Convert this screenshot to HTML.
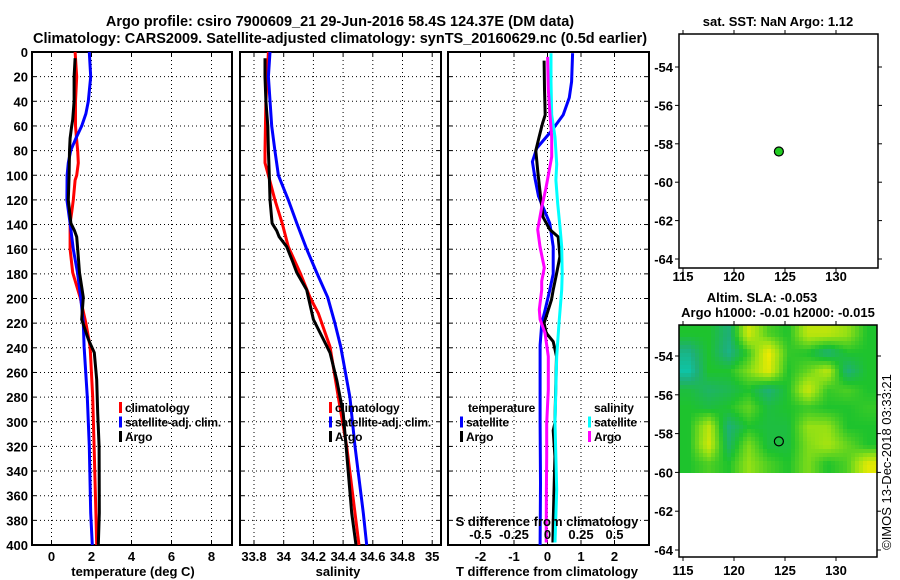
<!DOCTYPE html>
<html><head><meta charset="utf-8">
<style>
html,body{margin:0;padding:0;background:#fff;}
svg{display:block;font-family:"Liberation Sans",sans-serif;font-weight:bold;}
</style></head>
<body>
<svg id="fig" width="900" height="580" viewBox="0 0 900 580" xmlns="http://www.w3.org/2000/svg">
<defs>
<clipPath id="mapclip"><rect x="679" y="325" width="198" height="148"/></clipPath>
</defs>
<text x="340" y="26" font-size="14.5" text-anchor="middle">Argo profile: csiro 7900609_21 29-Jun-2016 58.4S 124.37E (DM data)</text>
<text x="340" y="43" font-size="14.5" text-anchor="middle">Climatology: CARS2009. Satellite-adjusted climatology: synTS_20160629.nc (0.5d earlier)</text>
<text x="778" y="26" font-size="13" text-anchor="middle">sat. SST: NaN Argo: 1.12</text>
<text x="762" y="302" font-size="13" text-anchor="middle">Altim. SLA: -0.053</text>
<text x="778" y="317" font-size="13" text-anchor="middle">Argo h1000: -0.01 h2000: -0.015</text>
<text transform="translate(891,462) rotate(-90)" font-size="13" font-weight="normal" text-anchor="middle">©IMOS 13-Dec-2018 03:33:21</text>
<g id="plots"></g>
</svg>
<script>
// ---- data ----
const depthsTA = [0,20,40,55,60,70,80,90,100,104,120,130,139,160,179,199,220,239,280,320,374,400];
const tempClim = [1.18,1.26,1.2,1.2,1.2,1.25,1.31,1.34,1.26,1.18,1.09,1.01,0.93,0.93,1.06,1.43,1.72,1.93,2.06,2.13,2.22,2.26];
const depthsTB = [0,20,40,50,60,70,80,90,100,120,139,160,179,199,220,239,280,320,374,400];
const tempSat = [1.89,1.96,1.84,1.72,1.51,1.22,0.96,0.84,0.78,0.77,0.93,1.09,1.3,1.46,1.59,1.63,1.79,1.89,1.96,2.04];
const depthsTC = [5,20,40,55,60,70,80,100,120,139,145,150,160,179,199,217,233,244,266,293,320,374,400];
const tempArgo = [1.18,1.13,1.13,1.06,1.01,0.93,0.9,0.88,0.84,0.97,1.15,1.26,1.31,1.4,1.59,1.51,1.84,2.14,2.26,2.31,2.38,2.39,2.34];

const depthsSA = [0,40,80,90,100,120,139,158,179,199,212,239,280,320,374,400];
const salClim = [33.897,33.88,33.874,33.874,33.897,33.941,33.99,34.031,34.11,34.177,34.233,34.312,34.368,34.424,34.48,34.507];
const depthsSB = [0,20,60,80,100,110,120,139,160,179,199,220,239,280,320,374,400];
const salSat = [33.908,33.897,33.919,33.941,33.964,33.997,34.031,34.088,34.155,34.222,34.296,34.345,34.384,34.446,34.48,34.536,34.559];
const depthsSC = [5,20,40,60,80,100,120,139,145,150,158,170,179,193,217,233,244,266,293,320,374,400];
const salArgo = [33.874,33.874,33.88,33.893,33.897,33.903,33.908,33.922,33.953,33.97,34.02,34.06,34.088,34.155,34.2,34.267,34.312,34.357,34.401,34.42,34.458,34.487];

const depthsD1 = [1,24,37,51,64,78,89,103,117,126,139,158,180,193,209,220,238,300,350,400];
const dTsat = [0.75,0.72,0.65,0.47,0.12,-0.32,-0.45,-0.37,-0.27,-0.13,0.07,0.17,0.17,0.07,-0.07,-0.17,-0.22,-0.22,-0.21,-0.22];
const depthsD2 = [7,30,51,58,69,80,97,119,134,144,150,166,180,193,201,220,228,235,241,247,301,307,328,382,398];
const dTargo = [-0.1,-0.09,-0.07,-0.15,-0.25,-0.35,-0.29,-0.2,-0.13,0.07,0.32,0.37,0.27,0.17,0.12,-0.1,-0.04,0.17,0.22,0.27,0.22,0.17,0.22,0.17,0.16];
const depthsD3 = [1,24,51,69,91,104,123,142,158,180,193,220,247,301,355,398];
const dSsat = [0.026,0.026,0.031,0.056,0.069,0.063,0.076,0.093,0.106,0.11,0.106,0.086,0.069,0.056,0.069,0.056];
const depthsD4 = [4,30,51,69,85,97,111,126,144,158,175,186,193,209,217,228,247,274,301,328,355,398];
const dSargo = [0.001,0.006,0.019,0.031,0.031,0.011,-0.013,-0.043,-0.073,-0.056,-0.024,-0.043,-0.043,-0.061,-0.055,-0.019,0.006,0.006,-0.006,-0.006,-0.008,-0.01];

const depthTicks = [0,20,40,60,80,100,120,140,160,180,200,220,240,260,280,300,320,340,360,380,400];
const tempTicks = [0,2,4,6,8];
const salTicks = [33.8,34,34.2,34.4,34.6,34.8,35];
const salTickLabels = ["33.8","34","34.2","34.4","34.6","34.8","35"];
const dTTicks = [-2,-1,0,1,2];
const dSTicks = [-0.5,-0.25,0,0.25,0.5];
const dSTickLabels = ["-0.5","-0.25","0","0.25","0.5"];
const lonTicks = [115,120,125,130];
const latTicks = [-54,-56,-58,-60,-62,-64];
const argoLon = 124.4, argoLat = -58.4;
// SLA heatmap (relative values: 0 teal .. 1 green .. 2 yellow), rows north->south
const slaGrid = [
 [1.0,1.0,0.6,1.8,1.2,1.0,1.7,1.7,1.5,1.0],
 [0.5,1.0,0.5,1.1,2.0,1.1,1.0,0.6,1.0,1.0],
 [0.3,1.0,1.0,1.4,1.9,1.0,1.3,1.7,0.6,1.0],
 [0.9,0.7,0.8,1.0,0.6,1.0,1.8,1.1,1.2,1.0],
 [1.0,0.9,1.0,1.3,0.9,1.0,1.1,1.0,1.0,1.1],
 [1.0,1.7,0.6,1.0,0.9,0.9,1.5,1.5,1.0,1.0],
 [1.0,1.8,0.7,1.4,0.9,0.9,1.4,1.6,1.3,1.0],
 [1.0,1.2,1.0,1.5,1.2,1.0,1.4,1.0,1.2,1.9]
];

// ---- geometry ----
const TOP=52, BOT=545;
const y = d => TOP + (d/400)*(BOT-TOP);
const xT = t => 51.5 + 20*t;
const xS = s => 254 + (s-33.8)*148.5;
const xDT = t => 547.5 + 33.5*t;
const xDS = s => 547.5 + 134*s;
const xLon = l => 683 + (l-115)*10.2;
const yLat1 = l => 67 + (-54-l)*19.2;
const yLat2 = l => 356 + (-54-l)*19.4;

const NS="http://www.w3.org/2000/svg";
const root=document.getElementById('plots');
function mk(tag, attrs, parent){const e=document.createElementNS(NS,tag);for(const k in attrs)e.setAttribute(k,attrs[k]);(parent||root).appendChild(e);return e;}
function txt(x,yy,s,size,anchor,parent){const e=mk('text',{x:x,y:yy,'font-size':size,'text-anchor':anchor},parent);e.textContent=s;return e;}

function panel(name,x0,x1,xticks,xfn){
  const g=mk('g',{});
  
  
  depthTicks.forEach(d=>{
    if(d>0&&d<400){const l=mk('line',{x1:x0,x2:x1,y1:y(d),y2:y(d),stroke:'#000','stroke-dasharray':'1,3','stroke-width':1},g);
    
    }
    mk('line',{x1:x0,x2:x0+4,y1:y(d),y2:y(d),stroke:'#000','stroke-width':1},g);
    mk('line',{x1:x1-4,x2:x1,y1:y(d),y2:y(d),stroke:'#000','stroke-width':1},g);
  });
  xticks.forEach(v=>{
    const xx=xfn(v);
    const l=mk('line',{x1:xx,x2:xx,y1:TOP,y2:BOT,stroke:'#000','stroke-dasharray':'1,3','stroke-width':1},g);
    
    
    mk('line',{x1:xx,x2:xx,y1:TOP,y2:TOP+4,stroke:'#000'},g);
    mk('line',{x1:xx,x2:xx,y1:BOT-4,y2:BOT,stroke:'#000'},g);
  });
  mk('rect',{x:x0,y:TOP,width:x1-x0,height:BOT-TOP,fill:'none',stroke:'#000','stroke-width':2},g);
  return g;
}
function series(name,depths,vals,xfn,color,parent){
  const pts=depths.map((d,i)=>xfn(vals[i]).toFixed(1)+','+y(d).toFixed(1)).join(' ');
  const p=mk('polyline',{points:pts,fill:'none',stroke:color,'stroke-width':3,'stroke-linejoin':'round'},parent);
  
  
}
function legend(name,x,yy,items,parent){
  const g=mk('g',{},parent);
  
  
  items.forEach((it,i)=>{
    const yy2=yy+i*14.5;
    if(it[1]) mk('rect',{x:x,y:yy2-10,width:3,height:11,fill:it[1]},g);
    const t=txt(x+(it[1]?6:0),yy2,it[0],12,'start',g);
    t.setAttribute('letter-spacing','-0.2');
  });
}

// depth labels
const yl=mk('g',{});


depthTicks.forEach(d=>txt(28,y(d)+5,String(d),13,'end',yl));

// panel 1
const p1=panel('temperature-panel',32,232,tempTicks,xT);
series('temp-climatology-line',depthsTA,tempClim,xT,'#ff0000',p1);
series('temp-satellite-line',depthsTB,tempSat,xT,'#0000ff',p1);
series('temp-argo-line',depthsTC,tempArgo,xT,'#000000',p1);
tempTicks.forEach(v=>txt(xT(v),561,String(v),13,'middle',p1));
txt(133,576,'temperature (deg C)',13,'middle',p1);
legend('temp-legend',119,412,[['climatology','#ff0000'],['satellite-adj. clim.','#0000ff'],['Argo','#000000']],p1);

// panel 2
const p2=panel('salinity-panel',240,441,salTicks,xS);
series('sal-climatology-line',depthsSA,salClim,xS,'#ff0000',p2);
series('sal-satellite-line',depthsSB,salSat,xS,'#0000ff',p2);
series('sal-argo-line',depthsSC,salArgo,xS,'#000000',p2);
salTicks.forEach((v,i)=>txt(xS(v),561,salTickLabels[i],13,'middle',p2));
txt(338,576,'salinity',13,'middle',p2);
legend('sal-legend',329,412,[['climatology','#ff0000'],['satellite-adj. clim.','#0000ff'],['Argo','#000000']],p2);

// panel 3
const p3=panel('difference-panel',448,649,dTTicks,xDT);
series('dT-satellite-line',depthsD1,dTsat,xDT,'#0000ff',p3);
series('dT-argo-line',depthsD2,dTargo,xDT,'#000000',p3);
series('dS-satellite-line',depthsD3,dSsat,xDS,'#00ffff',p3);
series('dS-argo-line',depthsD4,dSargo,xDS,'#ff00ff',p3);
dTTicks.forEach(v=>txt(xDT(v),561,String(v),13,'middle',p3));
dSTicks.forEach((v,i)=>txt(xDS(v),539,dSTickLabels[i],13,'middle',p3));
txt(547,526,'S difference from climatology',13,'middle',p3);
txt(547,576,'T difference from climatology',13,'middle',p3);
legend('temp-diff-legend',460,412,[['temperature',null],['satellite','#0000ff'],['Argo','#000000']],p3);
p3.lastChild.firstChild.setAttribute('x',468);
legend('sal-diff-legend',588,412,[['salinity',null],['satellite','#00ffff'],['Argo','#ff00ff']],p3);
p3.lastChild.firstChild.setAttribute('x',594);

// map panels
function mapFrame(name,x0,y0,x1,y1,ylat,labelsLon){
  const g=mk('g',{});
  
  
  mk('rect',{x:x0,y:y0,width:x1-x0,height:y1-y0,fill:'none',stroke:'#000','stroke-width':1.5},g);
  latTicks.forEach(l=>{const yy=ylat(l);
    mk('line',{x1:x0-4,x2:x0,y1:yy,y2:yy,stroke:'#000'},g);
    mk('line',{x1:x1,x2:x1+4,y1:yy,y2:yy,stroke:'#000'},g);
    txt(x0-6,yy+5,String(l),13,'end',g);});
  lonTicks.forEach(l=>{const xx=xLon(l);
    mk('line',{x1:xx,x2:xx,y1:y0-4,y2:y0,stroke:'#000'},g);
    mk('line',{x1:xx,x2:xx,y1:y1,y2:y1+4,stroke:'#000'},g);
    txt(xx,labelsLon,String(l),13,'middle',g);});
  return g;
}
// SLA heatmap
function slaColor(v){
  const stops=[[0,[0,215,210]],[0.6,[30,175,120]],[1,[30,195,45]],[1.5,[150,225,20]],[2,[245,235,0]]];
  for(let i=1;i<stops.length;i++){if(v<=stops[i][0]){const a=stops[i-1],b=stops[i],t=(v-a[0])/(b[0]-a[0]);
    return 'rgb('+a[1].map((c,k)=>Math.round(c+(b[1][k]-c)*t)).join(',')+')';}}
  return 'rgb(245,235,0)';
}
const hm=mk('g',{'clip-path':'url(#mapclip)'});


const nr=slaGrid.length,nc=slaGrid[0].length,cw=198/nc,ch=148/nr;
// bilinear sample of the grid (cell centres) for smooth shading
function sample(px,py){
  let gx=(px-679)/cw-0.5, gy=(py-325)/ch-0.5;
  gx=Math.max(0,Math.min(nc-1,gx)); gy=Math.max(0,Math.min(nr-1,gy));
  const c0=Math.floor(gx),r0=Math.floor(gy),c1=Math.min(nc-1,c0+1),r1=Math.min(nr-1,r0+1);
  const fx=gx-c0,fy=gy-r0;
  const a=slaGrid[r0][c0]*(1-fx)+slaGrid[r0][c1]*fx;
  const b=slaGrid[r1][c0]*(1-fx)+slaGrid[r1][c1]*fx;
  return a*(1-fy)+b*fy;
}
const step=4;
for(let py=325;py<473;py+=step){
  for(let px=679;px<877;px+=step){
    const cell=mk('rect',{x:px,y:py,width:step+0.4,height:step+0.4,fill:slaColor(sample(px+step/2,py+step/2))},hm);
    
    
  }
}
mapFrame('sst-map',679,34,878,268,yLat1,281);
mapFrame('sla-map',679,325,877,557,yLat2,575);
const dot=mk('circle',{cx:xLon(argoLon),cy:yLat1(argoLat),r:4.5,fill:'#22cc22',stroke:'#000','stroke-width':1.2});


const ring=mk('circle',{cx:xLon(argoLon),cy:yLat2(argoLat),r:4.5,fill:'none',stroke:'#000','stroke-width':1.2});


</script>
</body></html>
